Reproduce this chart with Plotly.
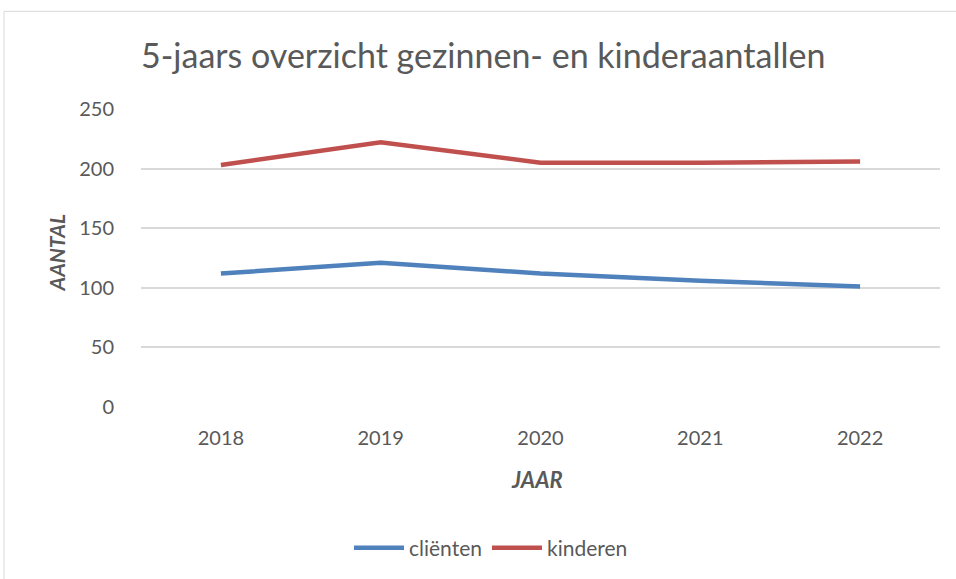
import plotly.graph_objects as go

years = ["2018", "2019", "2020", "2021", "2022"]
clienten = [112, 121, 112, 106, 101]
kinderen = [203, 222, 205, 205, 206]
y_ticks = [0, 50, 100, 150, 200, 250]

W, H = 956, 579
L, R, T, B = 141, 16, 109, 171
pw, ph = W - L - R, H - T - B

def px_x(x):
    return (x - L) / pw

def px_y(y):
    return (H - B - y) / ph

fig = go.Figure()
fig.add_trace(go.Scatter(x=years, y=clienten, name="cliënten", mode="lines",
                         line=dict(color="#4F81BD", width=4.5)))
fig.add_trace(go.Scatter(x=years, y=kinderen, name="kinderen", mode="lines",
                         line=dict(color="#C0504D", width=4.5)))

font_family = "Lato, 'Open Sans', sans-serif"
fig.update_layout(
    width=W, height=H,
    margin=dict(l=L, r=R, t=T, b=B),
    paper_bgcolor="white", plot_bgcolor="white",
    font=dict(family=font_family, color="#595959", size=20),
    showlegend=True,
    legend=dict(orientation="h", x=px_x(491), xanchor="center", y=px_y(548), yanchor="middle",
                font=dict(size=21, color="#595959"), itemwidth=50, tracegroupgap=0),
    xaxis=dict(type="category", range=[-0.5, 4.5], showgrid=False, zeroline=False,
               showline=False, ticks="", tickfont=dict(size=20, color="#595959"),
               ticklabelstandoff=17),
    yaxis=dict(range=[0, 250], tickvals=y_ticks, showgrid=True, gridcolor="#D9D9D9",
               gridwidth=1.5, zeroline=False, showline=False, ticks="",
               tickfont=dict(size=20, color="#595959"), ticklabelstandoff=26),
)

fig.add_annotation(text="5-jaars overzicht gezinnen- en kinderaantallen",
                   xref="paper", yref="paper", x=px_x(139), y=px_y(54),
                   xanchor="left", yanchor="middle", showarrow=False,
                   font=dict(size=34, color="#595959", family=font_family))
fig.add_annotation(text="<b><i>AANTAL</i></b>", xref="paper", yref="paper",
                   x=px_x(57), y=px_y(253), xanchor="center", yanchor="middle",
                   textangle=-90, showarrow=False,
                   font=dict(size=21, color="#595959", family=font_family))
fig.add_annotation(text="<b><i>JAAR</i></b>", xref="paper", yref="paper",
                   x=px_x(537), y=px_y(481), xanchor="center", yanchor="middle",
                   showarrow=False,
                   font=dict(size=22, color="#595959", family=font_family))

fig.add_shape(type="rect", xref="paper", yref="paper",
              x0=px_x(4), x1=px_x(1000), y0=px_y(640), y1=px_y(11),
              line=dict(color="#D9D9D9", width=1), fillcolor="rgba(0,0,0,0)",
              layer="below")

fig.write_html("out.html", config={"displayModeBar": False},
               post_script="document.body.style.margin='0';")
